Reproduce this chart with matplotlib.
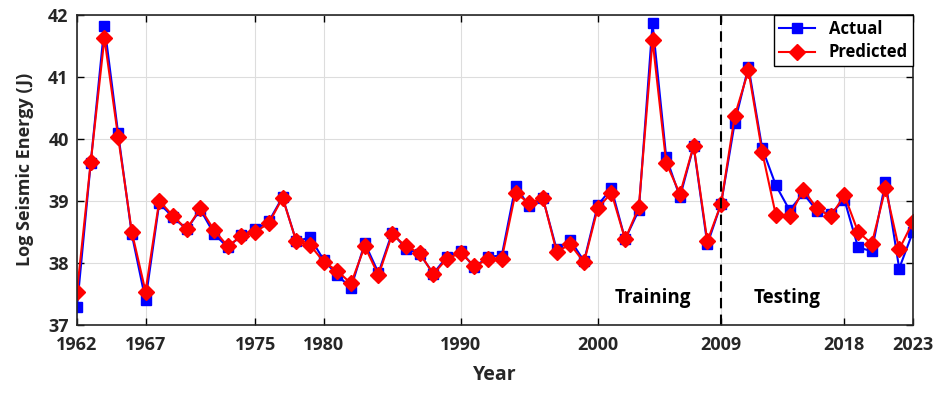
import numpy as np
import matplotlib.pyplot as plt

plt.rcParams['font.family'] = ['Open Sans', 'DejaVu Sans']
plt.rcParams['font.weight'] = 'bold'

years = np.arange(1962, 2024)

actual = [37.29, 39.61, 41.82, 40.09, 38.46, 37.40, 38.96, 38.74, 38.54, 38.86,
          38.47, 38.25, 38.45, 38.54, 38.67, 39.06, 38.35, 38.41, 38.05, 37.80,
          37.60, 38.32, 37.84, 38.49, 38.23, 38.15, 37.83, 38.10, 38.19, 37.93,
          38.10, 38.12, 39.24, 38.91, 39.04, 38.22, 38.37, 38.03, 38.93, 39.20,
          38.38, 38.85, 41.86, 39.70, 39.06, 39.88, 38.30, 38.95, 40.26, 41.16,
          39.85, 39.25, 38.85, 39.12, 38.84, 38.79, 39.02, 38.25, 38.19, 39.31,
          37.91, 38.50]

predicted = [37.54, 39.62, 41.62, 40.03, 38.50, 37.54, 39.00, 38.76, 38.54, 38.88,
             38.53, 38.27, 38.43, 38.50, 38.64, 39.05, 38.35, 38.29, 38.02, 37.87,
             37.67, 38.27, 37.80, 38.46, 38.27, 38.16, 37.82, 38.07, 38.16, 37.95,
             38.06, 38.07, 39.13, 38.96, 39.05, 38.18, 38.30, 38.01, 38.88, 39.13,
             38.38, 38.90, 41.59, 39.61, 39.11, 39.89, 38.35, 38.95, 40.37, 41.10,
             39.79, 38.77, 38.75, 39.18, 38.88, 38.75, 39.09, 38.50, 38.31, 39.20,
             38.22, 38.66]

xticks = [1962, 1967, 1975, 1980, 1990, 2000, 2009, 2018, 2023]
split_year = 2009
txt = '#262626'

fig = plt.figure(figsize=(9.46, 3.94), dpi=100)
ax = fig.add_axes([0.0814, 0.175, 0.8836, 0.788])

ax.plot(years, actual, '-s', color='blue', lw=1.5, markersize=7,
        markerfacecolor='blue', markeredgecolor='blue', label='Actual')
ax.plot(years, predicted, '-D', color='red', lw=1.5, markersize=8,
        markerfacecolor='red', markeredgecolor='red', label='Predicted')

ax.axvline(split_year, color='black', ls='--', lw=1.5, dashes=(5, 3))
ax.text(2004, 37.43, 'Training', fontsize=13.5, fontweight='bold', ha='center', va='center')
ax.text(2013.8, 37.43, 'Testing', fontsize=13.5, fontweight='bold', ha='center', va='center')

ax.set_xlim(1962, 2023)
ax.set_ylim(37, 42)
ax.set_xticks(xticks)
ax.set_yticks([37, 38, 39, 40, 41, 42])
ax.tick_params(direction='in', top=True, right=True, labelsize=13, length=5, width=1,
               labelcolor=txt)
ax.tick_params(axis='x', pad=8)
ax.tick_params(axis='y', pad=6)
for lab in ax.get_xticklabels() + ax.get_yticklabels():
    lab.set_fontweight('bold')
ax.grid(True, color='#dddddd', lw=0.8)
for s in ax.spines.values():
    s.set_linewidth(1.2)
    s.set_color('#262626')

ax.set_xlabel('Year', fontsize=14, fontweight='bold', color=txt, labelpad=8)
ax.set_ylabel('Log Seismic Energy (J)', fontsize=13, fontweight='bold', color=txt, labelpad=10)

leg = ax.legend(loc='upper right', fontsize=12, fancybox=False, framealpha=1,
                edgecolor='black', borderaxespad=0, handlelength=2.2,
                borderpad=0.3, labelspacing=0.35)
leg.get_frame().set_linewidth(1)

plt.savefig('out.png', dpi=100)
